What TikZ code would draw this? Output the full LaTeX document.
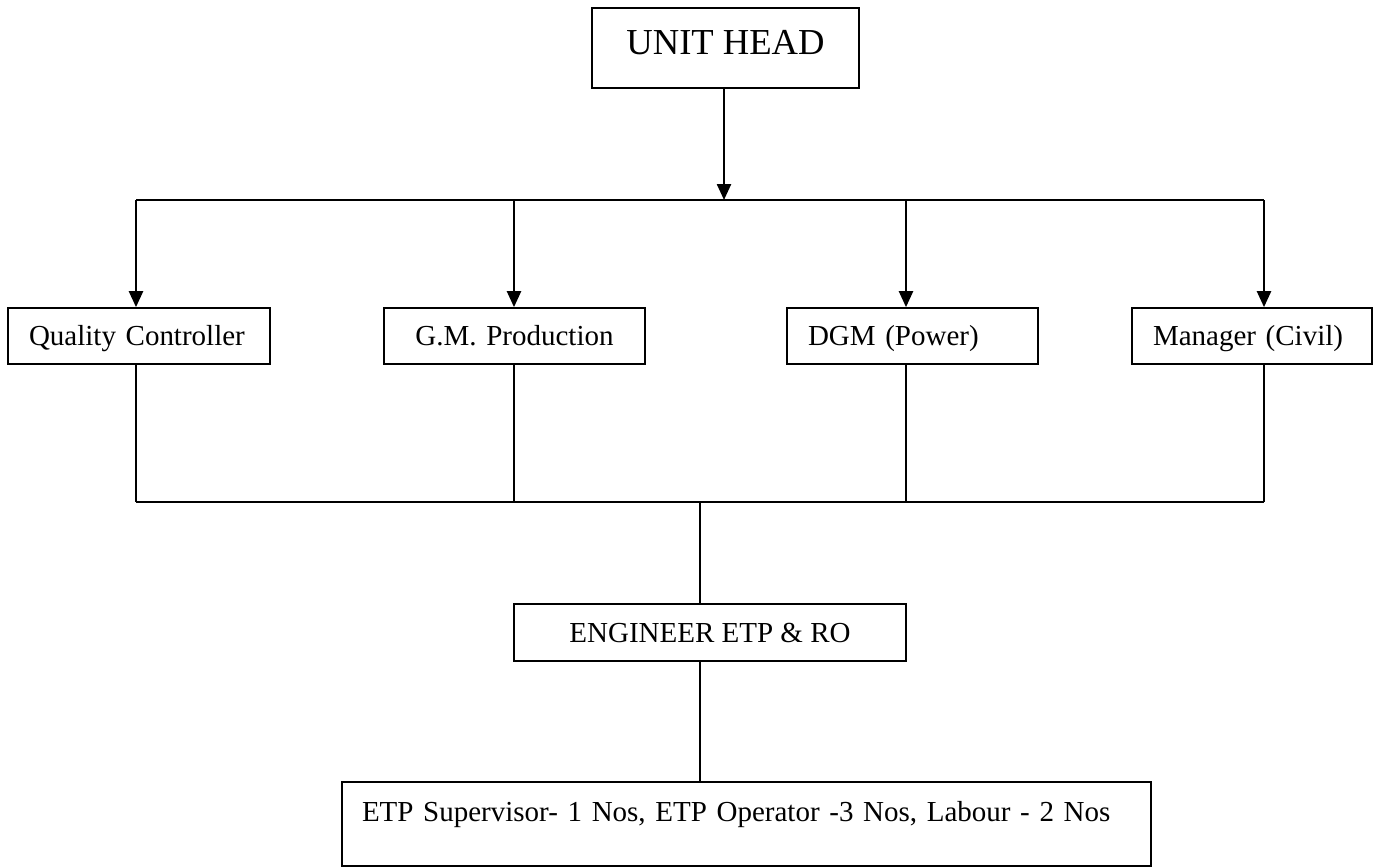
\documentclass[tikz,border=0pt]{standalone}
\usepackage{fontspec}
\setmainfont{Liberation Serif}
\usetikzlibrary{arrows.meta}
\tikzset{
  post/.style={draw, line width=0.85pt, font=\fontsize{14.5}{17}\selectfont,
    text height=9.6pt, text depth=0pt, minimum height=28pt, inner xsep=10.5pt},
  link/.style={line width=0.8pt},
  feed/.style={line width=1.2pt, -{Triangle[length=8pt,width=7pt]}}
}
\begin{document}
\begin{tikzpicture}[x=0.5pt,y=-0.5pt]
    \useasboundingbox (0,0) rectangle (1376,867);

    \node[post, font=\fontsize{18.3}{22}\selectfont, text height=12.1pt, text depth=5.5pt,
      minimum width=133.5pt, minimum height=40pt] (head) at (725.5,48) {UNIT HEAD};

    \node[post, text width=110pt, align=left] (qc) at (139,336) {Quality Controller};
    \node[post, text width=109.5pt, align=center] (gm) at (514.5,336) {G.M. Production};
    \node[post, text width=104.5pt, align=left] (dgm) at (912.5,336) {DGM (Power)};
    \node[post, text width=99pt, align=left] (mgr) at (1252,336) {Manager (Civil)};

    \node[post, minimum width=196pt, minimum height=28.5pt] (eng) at (710,632.5) {ENGINEER ETP \& RO};
    \node[post, text width=384.5pt, inner xsep=10pt, align=left, text depth=12.5pt,
      minimum height=42pt] (crew) at (746.5,824)
      {ETP Supervisor- 1 Nos, ETP Operator -3 Nos, Labour - 2 Nos};

    \coordinate (t0) at (724,200);
    \coordinate (t1) at (136,200);
    \coordinate (t2) at (514,200);
    \coordinate (t3) at (906,200);
    \coordinate (t4) at (1264,200);
    \coordinate (u1) at (136,502);
    \coordinate (u2) at (514,502);
    \coordinate (u3) at (906,502);
    \coordinate (u4) at (1264,502);
    \coordinate (j) at (700,502);

    \draw[feed] (t0 |- head.south) -- (t0);
    \draw[link] (t1) -- (t4);
    \draw[feed] (t1) -- (t1 |- qc.north);
    \draw[feed] (t2) -- (t2 |- gm.north);
    \draw[feed] (t3) -- (t3 |- dgm.north);
    \draw[feed] (t4) -- (t4 |- mgr.north);

    \draw[link] (qc.south -| u1) -- (u1);
    \draw[link] (gm.south -| u2) -- (u2);
    \draw[link] (dgm.south -| u3) -- (u3);
    \draw[link] (mgr.south -| u4) -- (u4);
    \draw[link] (u1) -- (u4);

    \draw[link] (j) -- (j |- eng.north);
    \draw[link] (j |- eng.south) -- (j |- crew.north);
\end{tikzpicture}
\end{document}
